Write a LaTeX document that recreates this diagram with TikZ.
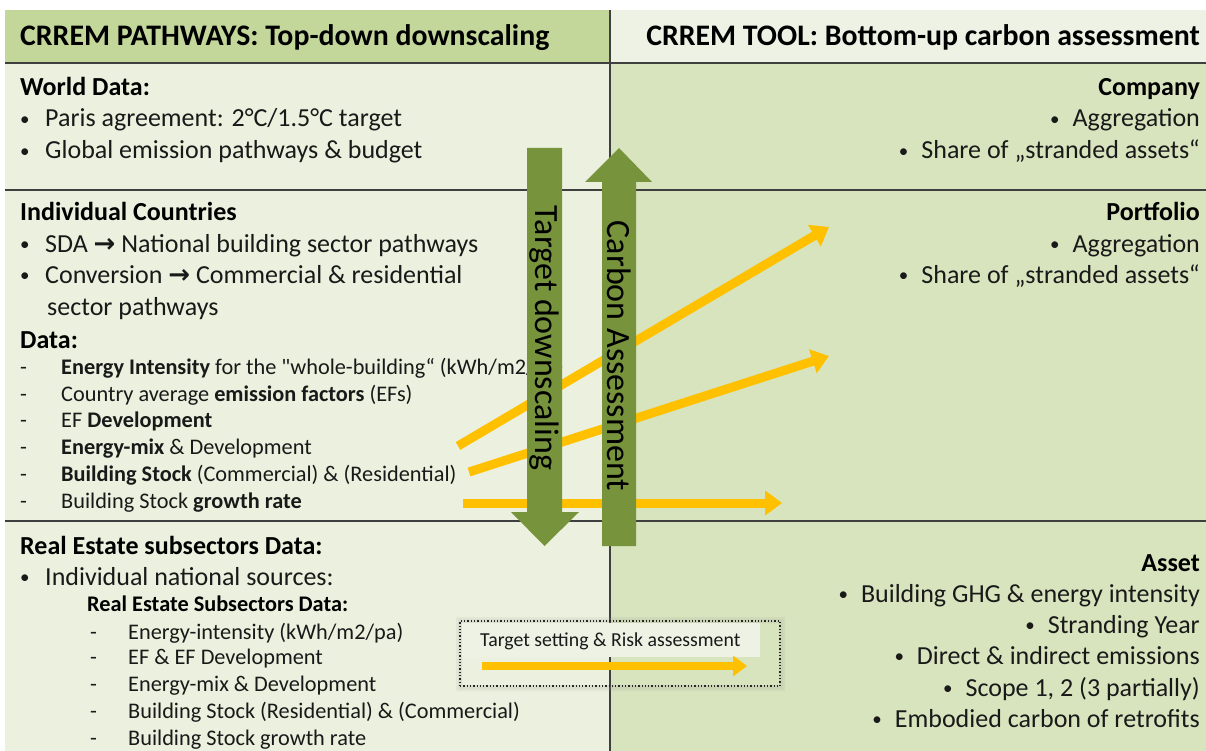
\documentclass[tikz,border=0pt]{standalone}
\usepackage{fontspec}
\setmainfont{Carlito}
\newfontfamily\nolig{Carlito}[Ligatures=TeXOff]
\newfontfamily\symfont{DejaVu Sans}
\usetikzlibrary{arrows.meta}
\definecolor{hdrL}{HTML}{C4D79B}
\definecolor{panL}{HTML}{EBF1DE}
\definecolor{hdrR}{HTML}{EEF2E4}
\definecolor{panR}{HTML}{D7E4BD}
\definecolor{arrG}{HTML}{77933C}
\definecolor{arrY}{HTML}{FFC000}
\definecolor{rulec}{HTML}{3F3F3F}
\newcommand{\rarr}{{\symfont\bfseries →}}
\newcommand{\bul}{\raisebox{1.5pt}{\fontsize{19}{19}\selectfont •}}
\begin{document}
\begin{tikzpicture}[x=1pt,y=-1pt,
  hdr/.style={font=\bfseries\fontsize{29.8}{34}\selectfont, inner sep=0pt, text=black},
  big/.style={font=\fontsize{26}{30}\selectfont, inner sep=0pt, text=black!90},
  bigb/.style={font=\bfseries\fontsize{26}{30}\selectfont, inner sep=0pt, text=black},
  mid/.style={font=\fontsize{22.3}{26}\selectfont, inner sep=0pt, text=black!90},
  midb/.style={font=\bfseries\fontsize{22.3}{26}\selectfont, inner sep=0pt, text=black},
  small/.style={font=\fontsize{19.8}{22}\selectfont, inner sep=0pt, text=black!90},
  lw/.style={anchor=base west},
  le/.style={anchor=base east},
  rulel/.style={draw=rulec, line width=2pt},
  yarrow/.style={draw=arrY, line width=9pt, -{Triangle[width=24pt,length=17pt]}},
  garrow/.style={fill=arrG, draw=none},
  gtext/.style={font=\fontsize{34}{38}\selectfont, inner sep=0pt, text=black, rotate=-90}
]
\useasboundingbox (0,0) rectangle (1206,751);
\fill[white] (0,0) rectangle (1206,751);
% panels
\fill[hdrL] (5,10) rectangle (610,63);
\fill[hdrR] (610,10) rectangle (1206,63);
\fill[panL] (5,63) rectangle (610,751);
\fill[panR] (610,63) rectangle (1206,751);
% rules
\draw[rulel] (5,63) -- (1206,63);
\draw[rulel] (5,190) -- (1206,190);
\draw[rulel] (5,521) -- (1206,521);
\draw[rulel] (610,10) -- (610,751);

% headers
\node[hdr,lw] (hL) at (20,46) {CRREM PATHWAYS: Top-down downscaling};
\node[hdr,le] (hR) at (1200,46) {CRREM TOOL: Bottom-up carbon assessment};

% World data
\node[bigb,lw] (wd) at (20,96) {World Data:};
\node[big,lw] (wd1b) at (20,127) {\bul};
\node[big,lw] (wd1) at (45,127) {Paris agreement: 2°C/1.5°C target};
\node[big,lw] (wd2b) at (20,159) {\bul};
\node[big,lw] (wd2) at (45,159) {Global emission pathways \& budget};

% Individual countries
\node[bigb,lw] (ic) at (20,221) {Individual Countries};
\node[big,lw] (ic1b) at (20,252) {\bul};
\node[big,lw] (ic1) at (45,252) {SDA \rarr{} National building sector pathways};
\node[big,lw] (ic2b) at (20,283) {\bul};
\node[big,lw] (ic2) at (45,283) {Conversion \rarr{} Commercial \& residential};
\node[big,lw] (ic3) at (47,315) {sector pathways};
\node[bigb,lw] (da) at (20,348) {Data:};
\foreach \yy/\nm in {374/d1,401/d2,427/d3,454/d4,481/d5,508/d6}{
  \node[mid,lw] (\nm dash) at (20,\yy) {-};
}
\node[mid,lw] (d1) at (61,374) {\textbf{Energy Intensity} for the {\nolig "}whole-building“ (kWh/m2/pa)};
\node[mid,lw] (d2) at (61,401) {Country average \textbf{emission factors} (EFs)};
\node[mid,lw] (d3) at (61,427) {EF \textbf{Development}};
\node[mid,lw] (d4) at (61,454) {\textbf{Energy-mix} \& Development};
\node[mid,lw] (d5) at (61,481) {\textbf{Building Stock} (Commercial) \& (Residential)};
\node[mid,lw] (d6) at (61,508) {Building Stock \textbf{growth rate}};

% Real estate
\node[bigb,lw] (re) at (20,554) {Real Estate subsectors Data:};
\node[big,lw] (re1b) at (20,585) {\bul};
\node[big,lw] (re1) at (45,585) {Individual national sources:};
\node[midb,lw] (res) at (87,611) {Real Estate Subsectors Data:};
\foreach \yy/\nm in {639/r1,664/r2,691/r3,718/r4,745/r5}{
  \node[mid,lw] (\nm dash) at (90,\yy) {-};
}
\node[mid,lw] (r1) at (128,639) {Energy-intensity (kWh/m2/pa)};
\node[mid,lw] (r2) at (128,664) {EF \& EF Development};
\node[mid,lw] (r3) at (128,691) {Energy-mix \& Development};
\node[mid,lw] (r4) at (128,718) {Building Stock (Residential) \& (Commercial)};
\node[mid,lw] (r5) at (128,745) {Building Stock growth rate};

% Right side
\node[bigb,le] (co) at (1200,96) {Company};
\node[big,le] (co1) at (1200,127) {\bul\hspace{13pt}Aggregation};
\node[big,le] (co2) at (1200,159) {\bul\hspace{13pt}Share of „stranded assets“};
\node[bigb,le] (po) at (1200,221) {Portfolio};
\node[big,le] (po1) at (1200,252) {\bul\hspace{13pt}Aggregation};
\node[big,le] (po2) at (1200,283) {\bul\hspace{13pt}Share of „stranded assets“};
\node[bigb,le] (as) at (1200,571) {Asset};
\node[big,le] (as1) at (1200,602) {\bul\hspace{13pt}Building GHG \& energy intensity};
\node[big,le] (as2) at (1200,633) {\bul\hspace{13pt}Stranding Year};
\node[big,le] (as3) at (1200,664) {\bul\hspace{13pt}Direct \& indirect emissions};
\node[big,le] (as4) at (1200,696) {\bul\hspace{13pt}Scope 1, 2 (3 partially)};
\node[big,le] (as5) at (1200,727) {\bul\hspace{13pt}Embodied carbon of retrofits};

% yellow arrows
\coordinate (y1s) at (458,446);
\coordinate (y1e) at (829,227);
\coordinate (y2s) at (469,472);
\coordinate (y2e) at (829,356);
\coordinate (y3s) at (463,503);
\coordinate (y3e) at (782,503);
\draw[yarrow] (y1s) -- (y1e);
\draw[yarrow] (y2s) -- (y2e);
\draw[yarrow] (y3s) -- (y3e);

% green arrows
\fill[garrow] (527,148) -- (562,148) -- (562,512) -- (579,512) -- (544.5,546) -- (511,512) -- (527,512) -- cycle;
\fill[garrow] (602,546) -- (636,546) -- (636,182) -- (652,182) -- (619,148) -- (585,182) -- (602,182) -- cycle;
\node[gtext] (tdown) at (544,338) {Target downscaling};
\node[gtext] (cass) at (619,356) {Carbon Assessment};

% target setting box
\fill[black!40, opacity=0.12, even odd rule] (456,617) rectangle (785,691) (462,623) rectangle (779,685);
\fill[black!40, opacity=0.10, even odd rule] (458,619) rectangle (783,689) (462,623) rectangle (779,685);
\node[draw=black!85, dotted, line width=1.3pt, minimum width=320pt, minimum height=65pt, inner sep=0pt] (tbox) at (620,653.5) {};
\fill[hdrR] (462,623) rectangle (760,657);
\node[small,lw] (tlabel) at (480,646) {Target setting \& Risk assessment};
\coordinate (y4s) at (482,666);
\coordinate (y4e) at (747,666);
\draw[yarrow, line width=8pt, -{Triangle[width=20pt,length=14pt]}] (y4s) -- (y4e);
\end{tikzpicture}
\end{document}
